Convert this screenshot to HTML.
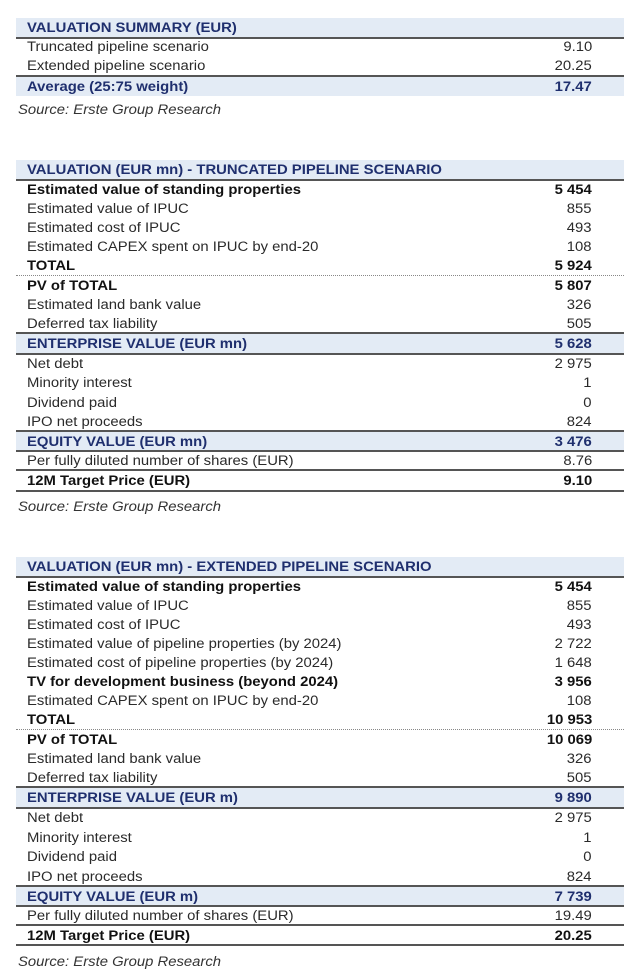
<!DOCTYPE html>
<html><head><meta charset="utf-8">
<style>
body{margin:0;width:640px;height:977px;background:#fff;position:relative;overflow:hidden;font-family:"Liberation Sans",Arial,sans-serif;}
.r{position:absolute;left:16px;width:608px;height:19px;font-size:13.5px;line-height:20px;color:#2a2a2a;}
.r .l{position:absolute;left:11px;top:0;white-space:nowrap;transform:scaleX(1.1);transform-origin:left center;}
.r .v{position:absolute;right:32px;top:0;transform:scaleX(1.1);transform-origin:right center;}
.b{font-weight:bold;color:#111;}
.h{background:#e3ebf5;color:#1f2f6e;font-weight:bold;}
.ln{position:absolute;left:16px;width:608px;height:2px;background:#555;}
.dt{position:absolute;left:16px;width:608px;height:0;border-top:1px dotted #888;}
.src{position:absolute;left:18px;font-size:13.5px;font-style:italic;color:#333;transform:scaleX(1.1);transform-origin:left center;}
</style></head><body>
<div>
<div class="r h" style="top:18px"><span class="l">VALUATION SUMMARY (EUR)</span></div>
<div class="ln" style="top:37px"></div>
<div class="r" style="top:37px"><span class="l">Truncated pipeline scenario</span><span class="v">9.10</span></div>
<div class="r" style="top:56px"><span class="l">Extended pipeline scenario</span><span class="v">20.25</span></div>
<div class="ln" style="top:75px"></div>
<div class="r h" style="top:77px"><span class="l">Average (25:75 weight)</span><span class="v">17.47</span></div>
</div>
<div class="src" style="top:102px">Source: Erste Group Research</div>

<div>
<div class="r h" style="top:160px"><span class="l">VALUATION (EUR mn) - TRUNCATED PIPELINE SCENARIO</span></div>
<div class="ln" style="top:179px"></div>
<div class="r b" style="top:180px"><span class="l">Estimated value of standing properties</span><span class="v">5 454</span></div>
<div class="r" style="top:199px"><span class="l">Estimated value of IPUC</span><span class="v">855</span></div>
<div class="r" style="top:218px"><span class="l">Estimated cost of IPUC</span><span class="v">493</span></div>
<div class="r" style="top:237px"><span class="l">Estimated CAPEX spent on IPUC by end-20</span><span class="v">108</span></div>
<div class="r b" style="top:256px"><span class="l">TOTAL</span><span class="v">5 924</span></div>
<div class="dt" style="top:275px"></div>
<div class="r b" style="top:276px"><span class="l">PV of TOTAL</span><span class="v">5 807</span></div>
<div class="r" style="top:295px"><span class="l">Estimated land bank value</span><span class="v">326</span></div>
<div class="r" style="top:314px"><span class="l">Deferred tax liability</span><span class="v">505</span></div>
<div class="ln" style="top:332px"></div>
<div class="r h" style="top:334px"><span class="l">ENTERPRISE VALUE (EUR mn)</span><span class="v">5 628</span></div>
<div class="ln" style="top:353px"></div>
<div class="r" style="top:354px"><span class="l">Net debt</span><span class="v">2 975</span></div>
<div class="r" style="top:373px"><span class="l">Minority interest</span><span class="v">1</span></div>
<div class="r" style="top:393px"><span class="l">Dividend paid</span><span class="v">0</span></div>
<div class="r" style="top:412px"><span class="l">IPO net proceeds</span><span class="v">824</span></div>
<div class="ln" style="top:430px"></div>
<div class="r h" style="top:432px"><span class="l">EQUITY VALUE (EUR mn)</span><span class="v">3 476</span></div>
<div class="ln" style="top:450px"></div>
<div class="r" style="top:451px"><span class="l">Per fully diluted number of shares (EUR)</span><span class="v">8.76</span></div>
<div class="ln" style="top:469px"></div>
<div class="r b" style="top:471px"><span class="l">12M Target Price (EUR)</span><span class="v">9.10</span></div>
<div class="ln" style="top:490px"></div>
</div>
<div class="src" style="top:499px">Source: Erste Group Research</div>

<div>
<div class="r h" style="top:557px"><span class="l">VALUATION (EUR mn) - EXTENDED PIPELINE SCENARIO</span></div>
<div class="ln" style="top:576px"></div>
<div class="r b" style="top:577px"><span class="l">Estimated value of standing properties</span><span class="v">5 454</span></div>
<div class="r" style="top:596px"><span class="l">Estimated value of IPUC</span><span class="v">855</span></div>
<div class="r" style="top:615px"><span class="l">Estimated cost of IPUC</span><span class="v">493</span></div>
<div class="r" style="top:634px"><span class="l">Estimated value of pipeline properties (by 2024)</span><span class="v">2 722</span></div>
<div class="r" style="top:653px"><span class="l">Estimated cost of pipeline properties (by 2024)</span><span class="v">1 648</span></div>
<div class="r b" style="top:672px"><span class="l">TV for development business (beyond 2024)</span><span class="v">3 956</span></div>
<div class="r" style="top:691px"><span class="l">Estimated CAPEX spent on IPUC by end-20</span><span class="v">108</span></div>
<div class="r b" style="top:710px"><span class="l">TOTAL</span><span class="v">10 953</span></div>
<div class="dt" style="top:729px"></div>
<div class="r b" style="top:730px"><span class="l">PV of TOTAL</span><span class="v">10 069</span></div>
<div class="r" style="top:749px"><span class="l">Estimated land bank value</span><span class="v">326</span></div>
<div class="r" style="top:768px"><span class="l">Deferred tax liability</span><span class="v">505</span></div>
<div class="ln" style="top:786px"></div>
<div class="r h" style="top:788px"><span class="l">ENTERPRISE VALUE (EUR m)</span><span class="v">9 890</span></div>
<div class="ln" style="top:807px"></div>
<div class="r" style="top:808px"><span class="l">Net debt</span><span class="v">2 975</span></div>
<div class="r" style="top:828px"><span class="l">Minority interest</span><span class="v">1</span></div>
<div class="r" style="top:847px"><span class="l">Dividend paid</span><span class="v">0</span></div>
<div class="r" style="top:867px"><span class="l">IPO net proceeds</span><span class="v">824</span></div>
<div class="ln" style="top:885px"></div>
<div class="r h" style="top:887px"><span class="l">EQUITY VALUE (EUR m)</span><span class="v">7 739</span></div>
<div class="ln" style="top:905px"></div>
<div class="r" style="top:906px"><span class="l">Per fully diluted number of shares (EUR)</span><span class="v">19.49</span></div>
<div class="ln" style="top:924px"></div>
<div class="r b" style="top:926px"><span class="l">12M Target Price (EUR)</span><span class="v">20.25</span></div>
<div class="ln" style="top:944px"></div>
</div>
<div class="src" style="top:954px">Source: Erste Group Research</div>
</body></html>
